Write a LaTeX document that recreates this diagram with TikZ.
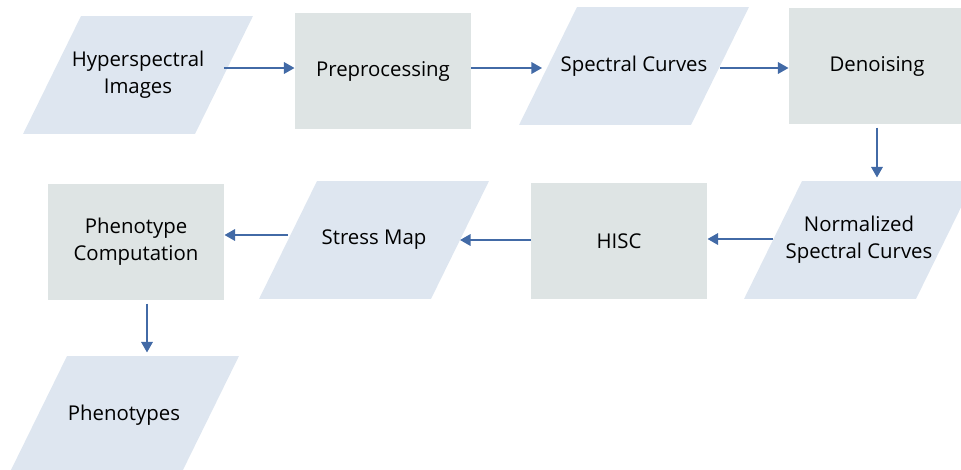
\documentclass[tikz,border=0pt]{standalone}
\usepackage{fontspec}
\setmainfont{Open Sans}
\usetikzlibrary{arrows.meta,backgrounds}

\definecolor{donnee}{RGB}{222,230,240}
\definecolor{etape}{RGB}{222,228,228}
\definecolor{fleche}{RGB}{66,106,166}

\tikzset{
	donnees/.style={rectangle, minimum width=3.44cm, minimum height=2.36cm,
		align=center, outer sep=0pt},
	etapes/.style={rectangle, fill=etape, minimum width=3.54cm, minimum height=2.32cm,
		align=center, outer sep=0pt},
	lien/.style={draw=fleche, line width=1.1pt, -{Triangle[length=6pt,width=6.5pt]}}
}

\begin{document}
\begin{tikzpicture}[x=0.02cm, y=-0.02cm, font=\fontsize{11.6}{15.4}\selectfont]
		\useasboundingbox (0,0) rectangle (961,470);
		\clip (0,0) rectangle (961,470);
		
		% Ligne du haut
		\node[donnees] (hyper) at (138,75) {Hyperspectral\\Images};
		\node[etapes] (pretrait) at (383,71) {Preprocessing};
		\node[donnees] (courbes) at (634,66) {Spectral Curves};
		\node[etapes] (debruit) at (877,66) {Denoising};
		
		% Ligne du milieu
		\node[donnees] (norm) at (859,240) {Normalized\\Spectral Curves};
		\node[etapes] (hisc) at (619,241) {HISC};
		\node[donnees] (stress) at (374,240) {Stress Map};
		\node[etapes] (calcul) at (136,242) {Phenotype\\Computation};
		
		% Sortie
		\node[donnees] (pheno) at (124,415) {Phenotypes};
		
		% Parallelogrammes
		\begin{pgfonlayer}{background}
			\foreach \n in {hyper,courbes,norm,stress,pheno}
				\fill[donnee] ([xshift=-0.58cm]\n.south west) -- ([xshift=-0.58cm]\n.south east)
					-- ([xshift=0.58cm]\n.north east) -- ([xshift=0.58cm]\n.north west) -- cycle;
		\end{pgfonlayer}
		
		% Fleches
		\draw[lien] (hyper.east |- 0,68) -- (pretrait.west |- 0,68);
		\draw[lien] (pretrait.east |- 0,68) -- ([xshift=-0.12cm]courbes.west |- 0,68);
		\draw[lien] (courbes.east |- 0,68) -- (debruit.west |- 0,68);
		\draw[lien] ([yshift=-2pt]debruit.south) -- ([yshift=2pt]debruit.south |- norm.north);
		\draw[lien] (norm.west |- 0,239) -- (hisc.east |- 0,239);
		\draw[lien] (hisc.west |- 0,240) -- (stress.east |- 0,240);
		\draw[lien] (stress.west |- 0,235) -- (calcul.east |- 0,235);
		\draw[lien] ([xshift=0.22cm,yshift=-2pt]calcul.south) -- ([xshift=0.22cm,yshift=2pt]calcul.south |- pheno.north);
	\end{tikzpicture}
\end{document}
